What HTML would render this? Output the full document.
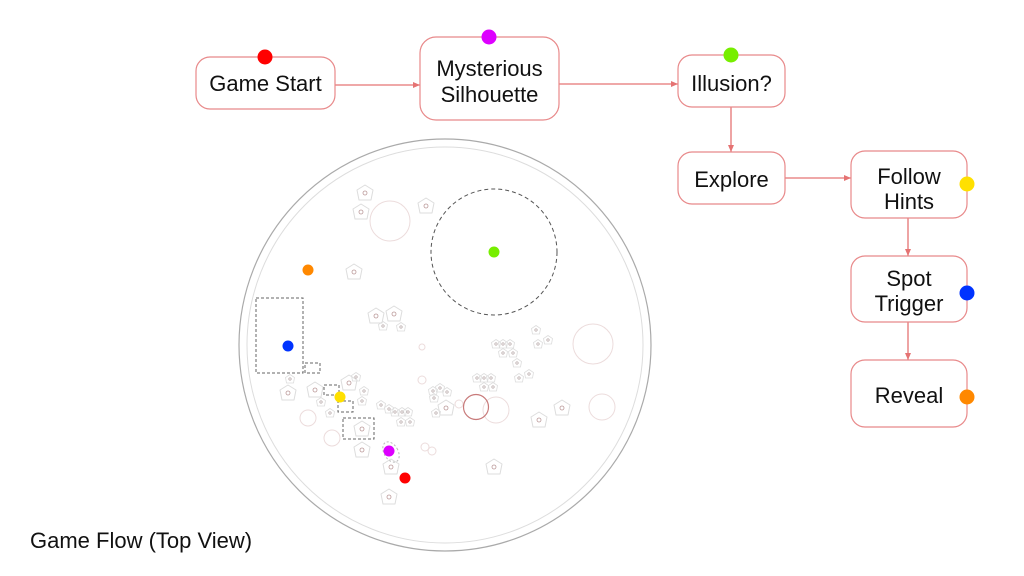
<!DOCTYPE html>
<html><head><meta charset="utf-8"><style>
body{margin:0;background:#fff}
svg{display:block}
text{font-family:"Liberation Sans",sans-serif;fill:#111}
</style></head><body>
<svg width="1024" height="576" viewBox="0 0 1024 576" xmlns="http://www.w3.org/2000/svg">
<defs>
<marker id="a" markerWidth="8" markerHeight="8" refX="7" refY="4" orient="auto" markerUnits="userSpaceOnUse"><path d="M0,1 L7,4 L0,7z" fill="#e57373"/></marker>
<g id="p"><path d="M0,-8 L8,-3 L6,7 L-6,7 L-8,-3z" fill="none" stroke="#ddd" stroke-width="1" stroke-linejoin="round"/><circle r="2" fill="none" stroke="#b99" stroke-width="0.8"/></g>
<g id="s"><path d="M0,-4.5 L4.5,-1.5 L3.5,4 L-3.5,4 L-4.5,-1.5z" fill="none" stroke="#ddd" stroke-width="0.8"/><circle r="1.2" fill="none" stroke="#a99" stroke-width="0.6"/></g>
</defs>

<g stroke="#e57373" stroke-width="1.3" fill="none">
<line x1="335" y1="85" x2="420" y2="85" marker-end="url(#a)"/>
<line x1="559" y1="84" x2="678" y2="84" marker-end="url(#a)"/>
<line x1="731" y1="107" x2="731" y2="152" marker-end="url(#a)"/>
<line x1="785" y1="178" x2="851" y2="178" marker-end="url(#a)"/>
<line x1="908" y1="218" x2="908" y2="256" marker-end="url(#a)"/>
<line x1="908" y1="322" x2="908" y2="360" marker-end="url(#a)"/>
</g>

<g fill="#fff" stroke="#e8898a" stroke-width="1.2">
<rect x="196" y="57" width="139" height="52" rx="14"/>
<rect x="420" y="37" width="139" height="83" rx="16"/>
<rect x="678" y="55" width="107" height="52" rx="14"/>
<rect x="678" y="152" width="107" height="52" rx="14"/>
<rect x="851" y="151" width="116" height="67" rx="14"/>
<rect x="851" y="256" width="116" height="66" rx="14"/>
<rect x="851" y="360" width="116" height="67" rx="14"/>
</g>
<g font-size="22" text-anchor="middle">
<text x="265.5" y="91">Game Start</text>
<text x="489.5" y="76">Mysterious</text>
<text x="489.5" y="102">Silhouette</text>
<text x="731.5" y="91">Illusion?</text>
<text x="731.5" y="187">Explore</text>
<text x="909" y="184">Follow</text>
<text x="909" y="209">Hints</text>
<text x="909" y="286">Spot</text>
<text x="909" y="311">Trigger</text>
<text x="909" y="403">Reveal</text>
</g>
<circle cx="265" cy="57" r="7.5" fill="#ff0000"/>
<circle cx="489" cy="37" r="7.5" fill="#dd00ff"/>
<circle cx="731" cy="55" r="7.5" fill="#77ee00"/>
<circle cx="967" cy="184" r="7.5" fill="#ffe000"/>
<circle cx="967" cy="293" r="7.5" fill="#0033ff"/>
<circle cx="967" cy="397" r="7.5" fill="#ff8800"/>

<circle cx="445" cy="345" r="206" fill="none" stroke="#aaa" stroke-width="1.2"/>
<circle cx="445" cy="345" r="198" fill="none" stroke="#ddd" stroke-width="1"/>
<circle cx="494" cy="252" r="63" fill="none" stroke="#555" stroke-width="1" stroke-dasharray="4,3"/>
<g fill="none" stroke="#ecdcdc" stroke-width="1">
<circle cx="390" cy="221" r="20"/>
<circle cx="593" cy="344" r="20"/>
<circle cx="602" cy="407" r="13"/>
<circle cx="496" cy="410" r="13"/>
<circle cx="308" cy="418" r="8"/>
<circle cx="332" cy="438" r="8"/>
<circle cx="425" cy="447" r="4"/>
<circle cx="422" cy="347" r="3"/>
<circle cx="422" cy="380" r="4"/>
<circle cx="459" cy="404" r="4"/>
<circle cx="432" cy="451" r="4"/>
</g>
<circle cx="476" cy="407" r="12.5" fill="none" stroke="#c87a7a" stroke-width="1.2"/>
<g fill="none" stroke="#666" stroke-width="1" stroke-dasharray="3,2">
<rect x="256" y="298" width="47" height="75"/>
<rect x="305" y="363" width="15" height="10"/>
<rect x="324" y="385" width="15" height="10"/>
<rect x="338" y="401" width="15" height="11"/>
<rect x="343" y="418" width="31" height="21"/>
</g>
<ellipse cx="391" cy="452" rx="7" ry="11" transform="rotate(-30 391 452)" fill="none" stroke="#bbb" stroke-dasharray="2,2"/>
<g>
<use href="#p" x="365" y="193"/><use href="#p" x="361" y="212"/><use href="#p" x="426" y="206"/>
<use href="#p" x="354" y="272"/><use href="#p" x="376" y="316"/><use href="#p" x="394" y="314"/>
<use href="#p" x="288" y="393"/><use href="#p" x="315" y="390"/><use href="#p" x="349" y="383"/>
<use href="#p" x="362" y="429"/><use href="#p" x="362" y="450"/><use href="#p" x="391" y="467"/>
<use href="#p" x="389" y="497"/><use href="#p" x="494" y="467"/><use href="#p" x="539" y="420"/>
<use href="#p" x="562" y="408"/><use href="#p" x="446" y="408"/>
<use href="#s" x="383" y="326"/><use href="#s" x="401" y="327"/><use href="#s" x="290" y="379"/>
<use href="#s" x="356" y="377"/><use href="#s" x="364" y="391"/><use href="#s" x="362" y="401"/>
<use href="#s" x="321" y="402"/><use href="#s" x="330" y="413"/><use href="#s" x="381" y="405"/>
<use href="#s" x="389" y="409"/><use href="#s" x="395" y="412"/><use href="#s" x="402" y="412"/>
<use href="#s" x="408" y="412"/><use href="#s" x="401" y="422"/><use href="#s" x="410" y="422"/>
<use href="#s" x="433" y="391"/><use href="#s" x="440" y="388"/><use href="#s" x="447" y="392"/>
<use href="#s" x="434" y="398"/><use href="#s" x="436" y="413"/>
<use href="#s" x="477" y="378"/><use href="#s" x="484" y="378"/><use href="#s" x="491" y="378"/>
<use href="#s" x="484" y="387"/><use href="#s" x="493" y="387"/><use href="#s" x="496" y="344"/>
<use href="#s" x="503" y="344"/><use href="#s" x="510" y="344"/><use href="#s" x="503" y="353"/>
<use href="#s" x="513" y="353"/><use href="#s" x="517" y="363"/><use href="#s" x="519" y="378"/>
<use href="#s" x="536" y="330"/><use href="#s" x="538" y="344"/><use href="#s" x="548" y="340"/>
<use href="#s" x="529" y="374"/>
</g>
<circle cx="494" cy="252" r="5.5" fill="#77ee00"/>
<circle cx="308" cy="270" r="5.5" fill="#ff8800"/>
<circle cx="288" cy="346" r="5.5" fill="#0033ff"/>
<circle cx="340" cy="397" r="5.5" fill="#ffe000"/>
<circle cx="389" cy="451" r="5.5" fill="#dd00ff"/>
<circle cx="405" cy="478" r="5.5" fill="#ff0000"/>

<text x="30" y="548" font-size="22">Game Flow (Top View)</text>
</svg>
</body></html>
